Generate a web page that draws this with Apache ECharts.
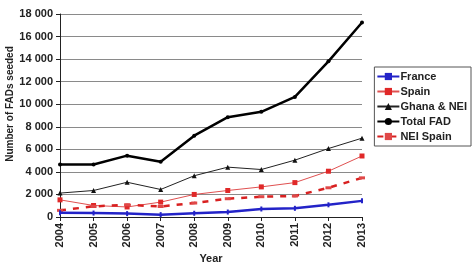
<!DOCTYPE html>
<html>
<head>
<meta charset="utf-8">
<script src="https://cdn.jsdelivr.net/npm/echarts@6/dist/echarts.min.js"></script>
<style>
  html, body { margin: 0; padding: 0; background: #fff; }
  #main { width: 474px; height: 263px; }
</style>
</head>
<body>
<div id="main"></div>
<script>
  // years on x axis
  var years = ['2004', '2005', '2006', '2007', '2008', '2009', '2010', '2011', '2012', '2013'];
  var france = [380, 350, 300, 210, 330, 440, 710, 770, 1080, 1430];
  var spain = [1520, 1020, 890, 1320, 2000, 2350, 2670, 3050, 4060, 5410];
  var ghanaNei = [2120, 2350, 3080, 2440, 3660, 4420, 4210, 5040, 6070, 6990];
  var totalFad = [4650, 4650, 5440, 4900, 7210, 8850, 9330, 10650, 13800, 17250];
  var neiSpain = [590, 940, 1080, 930, 1240, 1620, 1800, 1860, 2590, 3470];

  var font = 'Liberation Sans';
  var myChart = echarts.init(document.getElementById('main'));

  var option = {
    animation: false,
    backgroundColor: '#fff',
    textStyle: { fontFamily: font },
    graphic: [{
      type: 'text',
      x: 5,
      y: 104,
      rotation: Math.PI / 2,
      style: {
        text: 'Number of FADs seeded',
        fontFamily: font,
        fontWeight: 'bold',
        fontSize: 10,
        fill: '#222',
        align: 'center',
        verticalAlign: 'top'
      }
    }],
    legend: {
      orient: 'vertical',
      right: 3,
      top: 67,
      padding: [4, 4, 4, 2],
      itemGap: 4,
      itemWidth: 22,
      itemHeight: 9,
      borderColor: '#555',
      borderWidth: 1,
      textStyle: { fontFamily: font, fontWeight: 'bold', fontSize: 11, color: '#222', padding: [0, 0, 0, -4] },
      data: ['France', 'Spain', 'Ghana & NEI', 'Total FAD', 'NEI Spain']
    },
    grid: {
      left: 60,
      right: 112,
      top: 14,
      bottom: 46,
      containLabel: false,
      outerBoundsMode: 'none'
    },
    xAxis: {
      type: 'category',
      boundaryGap: false,
      data: years,
      name: 'Year',
      nameLocation: 'middle',
      nameGap: 36,
      nameMoveOverlap: false,
      nameTextStyle: { fontFamily: font, fontWeight: 'bold', fontSize: 11, color: '#222' },
      axisLine: { lineStyle: { color: '#222', width: 1 } },
      axisTick: { show: true, alignWithLabel: true, length: 4, lineStyle: { color: '#222' } },
      axisLabel: { rotate: 90, fontFamily: font, fontWeight: 'bold', fontSize: 11, color: '#222', margin: 6 },
      splitLine: { show: false }
    },
    yAxis: {
      type: 'value',
      min: 0,
      max: 18000,
      interval: 2000,
      axisLine: { show: true, lineStyle: { color: '#222', width: 1 } },
      axisTick: { show: true, length: 4, lineStyle: { color: '#222' } },
      axisLabel: {
        fontFamily: font, fontWeight: 'bold', fontSize: 11, color: '#222', margin: 7,
        formatter: function (v) {
          return String(v).replace(/\B(?=(\d{3})+(?!\d))/g, ' ');
        }
      },
      splitLine: { show: true, lineStyle: { color: '#8a8a8a', width: 1 } }
    },
    series: [
      {
        name: 'France',
        type: 'line',
        data: france,
        symbol: 'rect',
        symbolSize: [2, 5],
        z: 5,
        itemStyle: { color: '#2323c8' },
        lineStyle: { color: '#2323c8', width: 2.5 }
      },
      {
        name: 'Spain',
        type: 'line',
        data: spain,
        symbol: 'rect',
        symbolSize: 5,
        itemStyle: { color: '#e02828' },
        lineStyle: { color: '#e05050', width: 1 }
      },
      {
        name: 'Ghana & NEI',
        type: 'line',
        data: ghanaNei,
        symbol: 'triangle',
        symbolSize: 5,
        itemStyle: { color: '#111' },
        lineStyle: { color: '#222', width: 1 }
      },
      {
        name: 'Total FAD',
        type: 'line',
        data: totalFad,
        symbol: 'circle',
        symbolSize: 4,
        itemStyle: { color: '#000' },
        lineStyle: { color: '#000', width: 2.5 }
      },
      {
        name: 'NEI Spain',
        type: 'line',
        data: neiSpain,
        symbol: 'rect',
        symbolSize: [6, 3],
        itemStyle: { color: '#e04848' },
        lineStyle: { color: '#d82020', width: 2.5, type: [6, 7] }
      }
    ]
  };

  myChart.setOption(option);
</script>
</body>
</html>
